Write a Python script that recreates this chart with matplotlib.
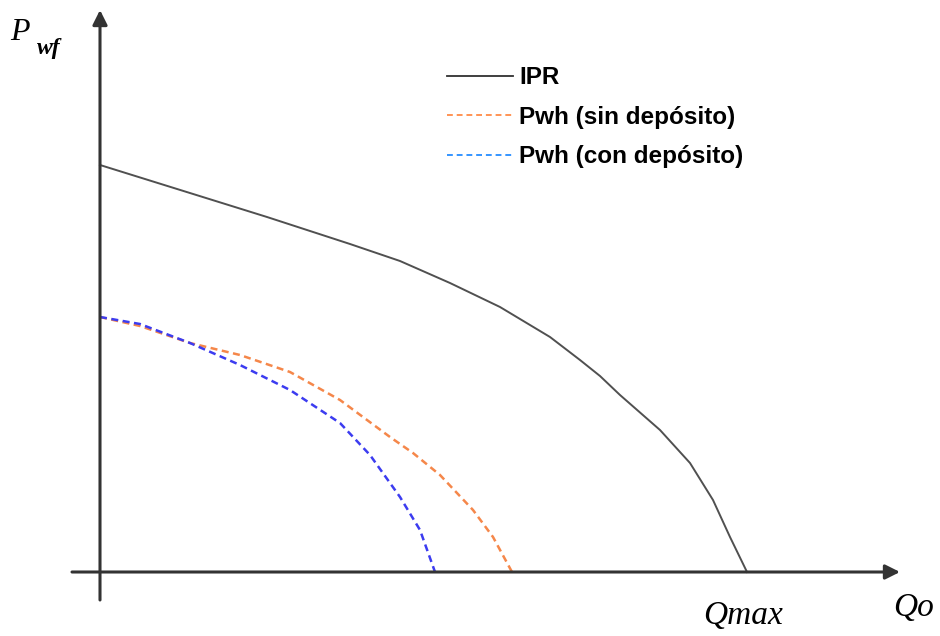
import matplotlib
matplotlib.use("Agg")
import matplotlib.pyplot as plt
from matplotlib.lines import Line2D

# ── Data (arbitrary units: Qo vs Pwf) ────────────────────────────────────────
ipr_q = [0, 167, 250, 300, 350, 400, 450, 480, 500, 520, 560, 590, 613, 630, 647]
ipr_p = [407, 355, 328, 311, 289, 265, 235, 212, 196, 177, 142, 109, 72, 35, 0]

sin_q = [0, 40, 90, 140, 190, 240, 290, 313, 340, 373, 393, 412]
sin_p = [255, 246, 229, 217, 200, 172, 135, 119, 97, 62, 35, 0]

con_q = [0, 40, 90, 140, 190, 240, 270, 300, 320, 335]
con_p = [255, 248, 229, 207, 182, 149, 117, 75, 42, 0]

Q_MAX = 647

AX_COL   = "#333333"
IPR_COL  = "#505050"
SIN_COL  = "#F5874A"
CON_COL  = "#3C3CF0"

fig = plt.figure(figsize=(9.4, 6.36), dpi=100)
ax = fig.add_axes([0, 0, 1, 1])
ax.set_xlim(-100, 840)
ax.set_ylim(-64, 572)
ax.axis("off")

# axes with arrows
ax.annotate("", xy=(800, 0), xytext=(-28, 0),
            arrowprops=dict(arrowstyle="-|>", color=AX_COL, lw=2.2,
                            mutation_scale=22, shrinkA=0, shrinkB=0))
ax.annotate("", xy=(0, 562), xytext=(0, -28),
            arrowprops=dict(arrowstyle="-|>", color=AX_COL, lw=2.2,
                            mutation_scale=22, shrinkA=0, shrinkB=0))

# curves
ax.plot(ipr_q, ipr_p, color=IPR_COL, lw=1.4, solid_joinstyle="round")
ax.plot(sin_q, sin_p, color=SIN_COL, lw=1.8, ls=(0, (2.8, 1.8)))
ax.plot(con_q, con_p, color=CON_COL, lw=1.8, ls=(0, (2.8, 1.8)))

# legend
handles = [Line2D([], [], color="#303030", lw=1.3),
           Line2D([], [], color="#FF9455", lw=1.4, ls=(0, (3, 2))),
           Line2D([], [], color="#3595FF", lw=1.4, ls=(0, (3, 2)))]
labels = ["IPR", "Pwh (sin depósito)", "Pwh (con depósito)"]
ax.legend(handles, labels, loc="upper left", bbox_to_anchor=(0.476, 0.896),
          frameon=False, handlelength=2.7, handletextpad=0.25, labelspacing=0.68,
          borderaxespad=0, borderpad=0,
          prop=dict(family="Liberation Sans", weight="bold", size=17.5))

# axis labels
serif = "Liberation Serif"
ax.text(-90, 532, "P", family=serif, style="italic", fontsize=23, ha="left", va="baseline")
ax.text(-63, 518, "wf", family=serif, style="italic", weight="bold", fontsize=17,
        ha="left", va="baseline")
ax.text(793, -44, "Qo", family=serif, style="italic", fontsize=24, ha="left", va="baseline")
ax.text(Q_MAX - 4, -52, "Qmax", family=serif, style="italic", fontsize=24,
        ha="center", va="baseline")

fig.savefig("out.png", dpi=100)
